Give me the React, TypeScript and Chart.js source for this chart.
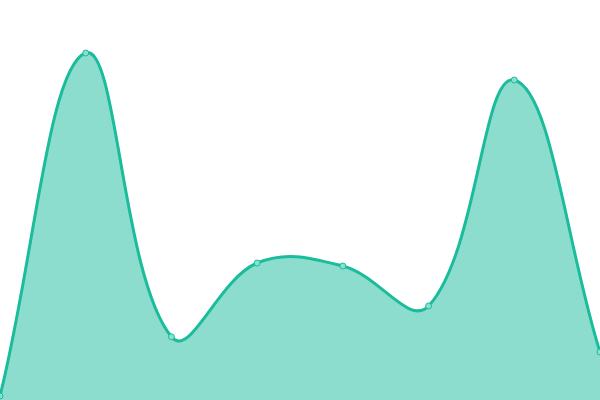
import React, { useRef, useEffect } from 'react';
import { Chart, registerables } from 'chart.js';

Chart.register(...registerables);

const labels = ['1', '2', '3', '4', '5', '6', '7', '8'];
const values = [1, 86.75, 15.8, 34.25, 33.5, 23.5, 80, 12];

const App = () => {
  const canvasRef = useRef<any>(null);
  const chartRef = useRef<any>(null);

  useEffect(() => {
    document.body.style.margin = '0';
    if (canvasRef.current) {
      const ctx = canvasRef.current.getContext('2d');
      if (chartRef.current) {
        chartRef.current.destroy();
      }
      chartRef.current = new Chart(ctx, {
        type: 'line',
        data: {
          labels: labels,
          datasets: [{
            data: values,
            fill: true,
            tension: 0.4,
            backgroundColor: 'rgba(26, 188, 156, 0.5)',
            borderColor: '#1abc9c',
            borderWidth: 3,
            pointRadius: 3,
            pointBorderWidth: 1,
            pointBackgroundColor: '#8ae0cf',
            pointBorderColor: '#1abc9c',
          }],
        },
        options: {
          responsive: false,
          animation: false,
          layout: { padding: 0, autoPadding: false },
          plugins: {
            legend: { display: false },
            tooltip: { enabled: false },
          },
          scales: {
            x: { display: false, offset: false },
            y: { display: false, min: 0, max: 100 },
          },
        },
      });
    }
    return () => {
      if (chartRef.current) {
        chartRef.current.destroy();
      }
    };
  }, []);

  return (
    <div style={{ width: '600px', height: '400px' }}>
      <canvas width={600} height={400} ref={canvasRef} />
    </div>
  );
};

export default App;
